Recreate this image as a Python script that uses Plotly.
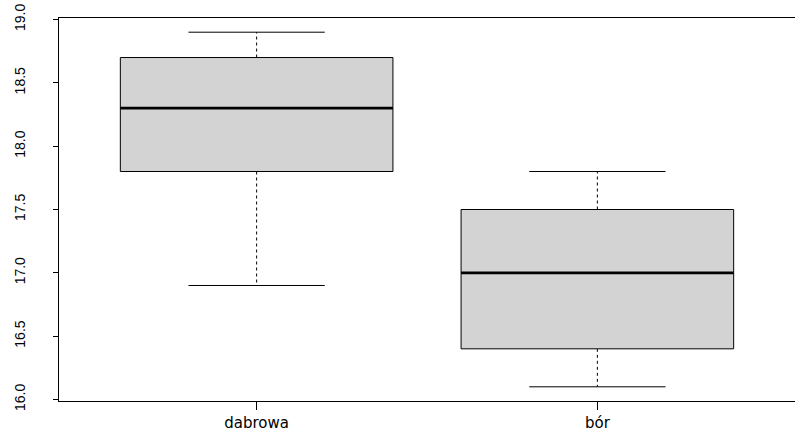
import plotly.graph_objects as go

categories = ["dabrowa", "bór"]
lower_whisker = [16.9, 16.1]
q1 = [17.8, 16.4]
median = [18.3, 17.0]
q3 = [18.7, 17.5]
upper_whisker = [18.9, 17.8]
y_ticks = [16.0, 16.5, 17.0, 17.5, 18.0, 18.5, 19.0]

BOX_HALF = 0.4
CAP_HALF = 0.2

fig = go.Figure()
for i, cat in enumerate(categories):
    p = i + 1
    # whiskers (dashed)
    fig.add_trace(go.Scatter(
        x=[p, p, None, p, p],
        y=[q3[i], upper_whisker[i], None, q1[i], lower_whisker[i]],
        mode="lines", line=dict(color="black", width=1, dash="3px,3px"),
        hoverinfo="skip", showlegend=False))
    # caps
    fig.add_trace(go.Scatter(
        x=[p - CAP_HALF, p + CAP_HALF, None, p - CAP_HALF, p + CAP_HALF],
        y=[upper_whisker[i], upper_whisker[i], None, lower_whisker[i], lower_whisker[i]],
        mode="lines", line=dict(color="black", width=1),
        hoverinfo="skip", showlegend=False))
    # box
    fig.add_trace(go.Scatter(
        x=[p - BOX_HALF, p + BOX_HALF, p + BOX_HALF, p - BOX_HALF, p - BOX_HALF],
        y=[q1[i], q1[i], q3[i], q3[i], q1[i]],
        mode="lines", fill="toself", fillcolor="#D3D3D3",
        line=dict(color="black", width=1),
        name=cat, showlegend=False))
    # median
    fig.add_trace(go.Scatter(
        x=[p - BOX_HALF, p + BOX_HALF],
        y=[median[i], median[i]],
        mode="lines", line=dict(color="black", width=2.8),
        hoverinfo="skip", showlegend=False))

fig.update_layout(
    width=795, height=437,
    margin=dict(l=59, r=0, t=18, b=36),
    paper_bgcolor="white", plot_bgcolor="white",
    showlegend=False,
    xaxis=dict(
        range=[0.42, 2.58], tickmode="array", tickvals=[1, 2], ticktext=categories,
        showgrid=False, zeroline=False, showline=True, mirror=True,
        linecolor="black", linewidth=1, ticks="outside", ticklen=8,
        tickcolor="black", tickwidth=1, automargin=False,
        tickfont=dict(family="DejaVu Sans", size=15, color="black"),
    ),
    yaxis=dict(
        range=[15.988, 19.012], tickmode="array", tickvals=y_ticks,
        ticktext=[f"{v:.1f}" for v in y_ticks],
        showgrid=False, zeroline=False, showline=True, mirror=False,
        linecolor="black", linewidth=1, ticks="outside", ticklen=5,
        tickcolor="black", tickwidth=1, tickangle=-90, automargin=False,
        ticklabelstandoff=22,
        tickfont=dict(family="Liberation Sans", size=14, color="black"),
    ),
)

fig.write_html("out.html", config={"displayModeBar": False},
               post_script="document.body.style.margin='0';")
